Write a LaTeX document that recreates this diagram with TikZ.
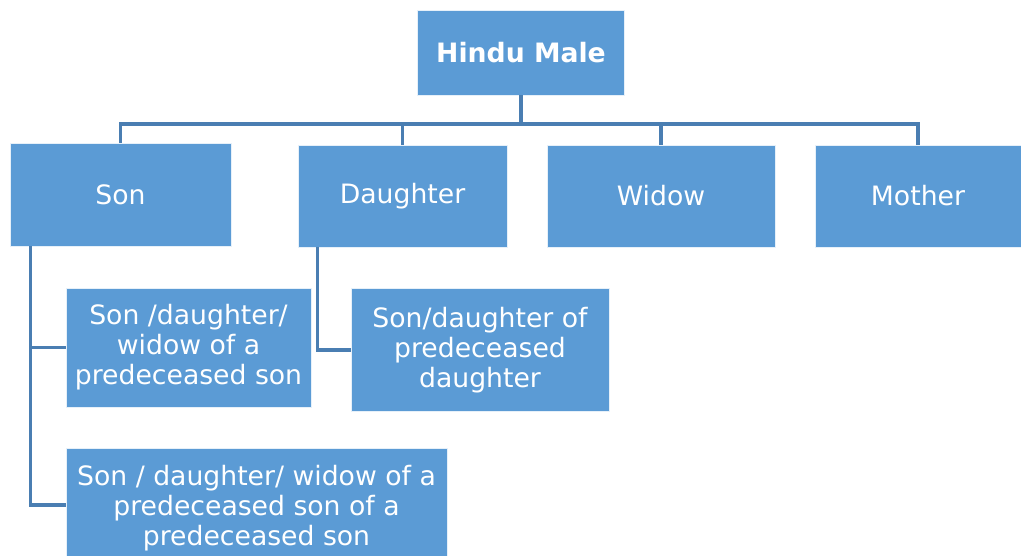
\documentclass[tikz,border=0pt]{standalone}
\usepackage{fontspec}
\setmainfont{DejaVu Sans}
\usetikzlibrary{positioning,calc}
\definecolor{boxblue}{HTML}{5B9BD5}
\definecolor{lineblue}{HTML}{4A7EB2}

\begin{document}
\begin{tikzpicture}[x=0.75pt, y=-0.75pt]
\tikzset{
    %box style
    heir/.style={
           rectangle,
           fill=boxblue, draw=white!85!boxblue, line width=0.6pt,
           text=white, inner sep=2pt,
           font=\fontsize{20}{22.5}\selectfont,
           align=center},
    %connector style
    link/.style={draw=lineblue, line width=2.4pt}
}
\useasboundingbox (0,0) rectangle (1021,556);

%Nodes
\node(male)  [heir, minimum width=155.25pt, minimum height=63.75pt] at (521,52.5) {\textbf{Hindu Male}};
\node(son)   [heir, minimum width=165.75pt, minimum height=77.25pt] at (120.5,194.5) {Son};
\node(dau)   [heir, minimum width=156.75pt, minimum height=76.5pt]  at (402.5,196) {Daughter};
\node(widow) [heir, minimum width=171pt,    minimum height=76.5pt]  at (661,196) {Widow};
\node(mother)[heir, minimum width=154.5pt,  minimum height=76.5pt]  at (918,196) {Mother};

\node(sona)  [heir, minimum width=183.75pt, minimum height=89.25pt] at (188.5,347.5) {Son /daughter/\\widow of a\\predeceased son};
\node(dauson)[heir, minimum width=193.5pt,  minimum height=92.25pt] at (480,350) {Son/daughter of\\predeceased\\daughter};
\node(sonb)  [heir, minimum width=285.75pt, minimum height=90pt]    at (256.5,508.5) {Son / daughter/ widow of a\\predeceased son of a\\predeceased son};

%Connectors
\coordinate (bus) at (521,124);
\draw[link] (male) -- (bus);
\draw[link] (bus) -| (son);
\draw[link] (bus) -| (dau);
\draw[link] (bus) -| (widow);
\draw[link] (bus) -| (mother);

\draw[link] ([xshift=15.75pt]son.south west) |- (sona);
\draw[link] ([xshift=15.75pt]son.south west) |- ([yshift=2.6pt]sonb.west);
\draw[link] ([xshift=15pt]dau.south west) |- (dauson);
\end{tikzpicture}
\end{document}
